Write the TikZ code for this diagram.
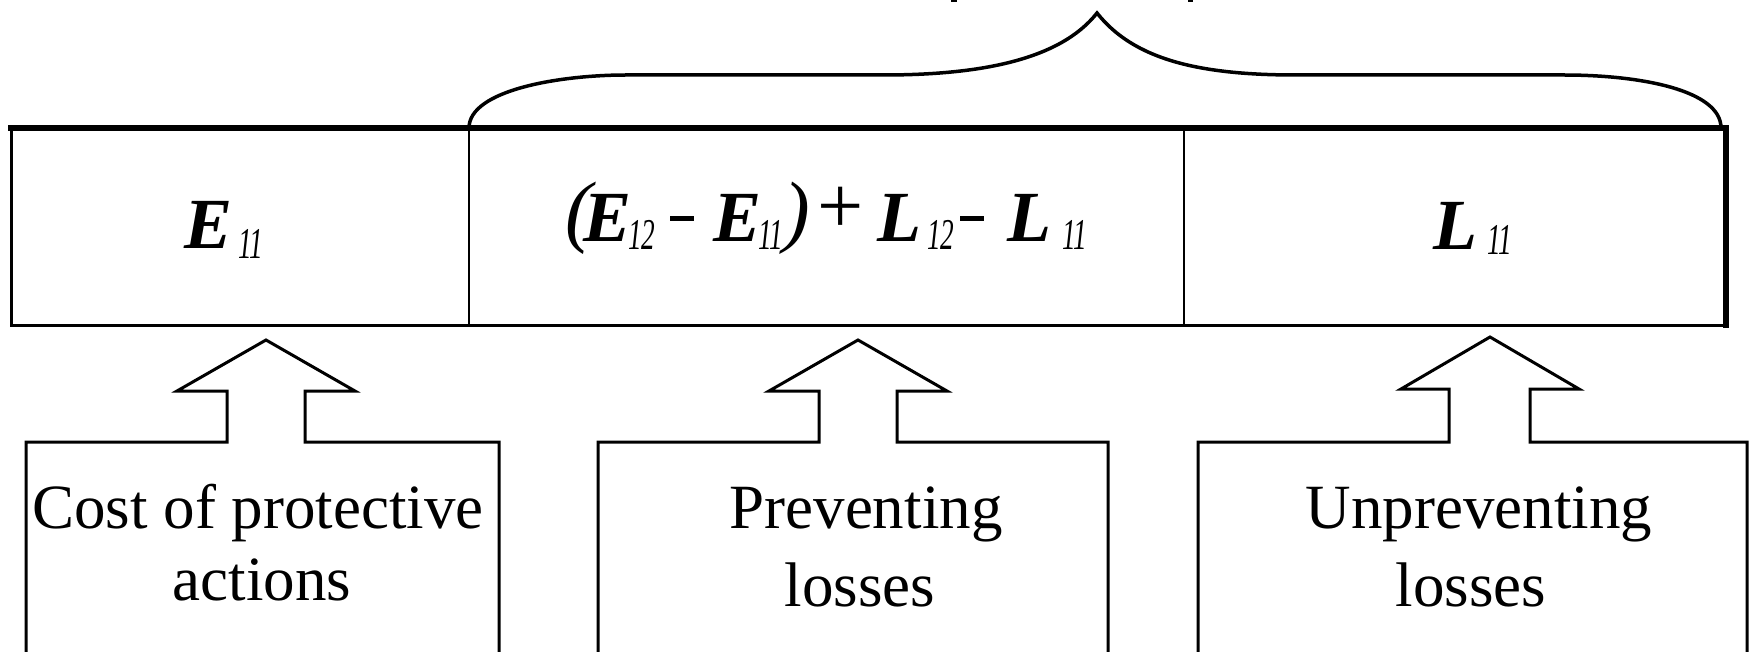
\documentclass[tikz,border=0pt]{standalone}
\usepackage{fontspec}
\setmainfont{Liberation Serif}
\usepackage{graphicx}
\newcommand{\subs}[2][-8pt]{\raisebox{#1}{\scalebox{0.62}[1]{\fontsize{44}{44}\selectfont\mdseries\itshape #2}}}
\newcommand{\bi}[1]{{\bfseries\itshape #1}}
\newcommand{\fixbox}[2]{\makebox[#1pt][l]{#2}}
\newcommand{\mydash}{\rule[21pt]{24pt}{5pt}}
\newcommand{\paren}[1]{\raisebox{5pt}{\fontsize{80}{80}\selectfont\itshape #1}}
\newcommand{\myplus}{\raisebox{8pt}{\fontsize{82}{82}\selectfont +}}
\begin{document}
\begin{tikzpicture}[x=1pt,y=-1pt,
  frame/.style={line width=3pt, line join=miter},
  heavy/.style={line width=5.5pt},
  divider/.style={line width=2.5pt},
  bracepath/.style={line width=3.5pt, line join=miter},
  blockarrow/.style={line width=3pt, line join=miter},
  labeltxt/.style={font=\fontsize{63}{72}\selectfont, inner sep=0pt, anchor=base},
  mathtxt/.style={font=\fontsize{72}{72}\selectfont, inner sep=0pt, anchor=base west}]
\useasboundingbox (0,0) rectangle (1752,652);
% main bar
\coordinate (tl) at (11,128);
\coordinate (br) at (1726,325);
\coordinate (d1t) at (469,128);
\coordinate (d1b) at (469,325);
\coordinate (d2t) at (1184,128);
\coordinate (d2b) at (1184,325);
\draw[frame] (tl) rectangle (br);
\draw[heavy] (8,128) -- (1729,128);
\draw[heavy] (1726,126) -- (1726,327.5);
\draw[divider] (d1t) -- (d1b);
\draw[divider] (d2t) -- (d2b);
% brace
\coordinate (bend) at (1721,128);
\draw[bracepath] (d1t) .. controls (469,90) and (560,75) .. (626,75) -- (883,75)
   .. controls (980,75) and (1060,60) .. (1097,13)
   .. controls (1134,60) and (1200,75) .. (1296,75) -- (1564,75)
   .. controls (1640,75) and (1721,90) .. (bend);
% fragments of cut-off text at top
\draw[line width=2.5pt] (951,1) -- (957,1);
\draw[line width=2.5pt] (1188,1) -- (1193,1);
% cell labels
\node[mathtxt] (e11) at (184,248) {\fixbox{54}{\bi{E}}\subs[-10pt]{11}};
\node[mathtxt] (form) at (565,242) {\fixbox{18}{\paren{(}}\fixbox{45}{\bi{E}}\fixbox{42}{\subs{12}}\fixbox{43}{\mydash}\fixbox{45}{\bi{E}}\fixbox{25}{\subs{11}}\fixbox{34}{\paren{)}}\fixbox{60}{\myplus}\fixbox{50}{\bi{L}}\fixbox{33}{\subs{12}}\fixbox{47}{\mydash}\fixbox{55}{\bi{L}}\subs{11}};
\node[mathtxt] (l11) at (1433,250) {\fixbox{54}{\bi{L}}\subs[-5pt]{11}};
% block arrows with boxes
\draw[blockarrow] (26,652) -- (26,442) -- (227,442) -- (227,391) -- (177,391) -- (266,340)
   -- (355,391) -- (305,391) -- (305,442) -- (499,442) -- (499,652);
\draw[blockarrow] (598,652) -- (598,442) -- (819,442) -- (819,391) -- (769,391) -- (858,340)
   -- (947,391) -- (897,391) -- (897,442) -- (1108,442) -- (1108,652);
\draw[blockarrow] (1198,652) -- (1198,442) -- (1449,442) -- (1449,389) -- (1401,389) -- (1490,337)
   -- (1579,389) -- (1530,389) -- (1530,442) -- (1747,442) -- (1747,652);
% bottom labels
\node[labeltxt] (c1) at (258,528) {Cost of protective};
\node[labeltxt] (c2) at (262,600) {actions};
\node[labeltxt] (p1) at (866,528) {Preventing};
\node[labeltxt] (p2) at (860,606) {losses};
\node[labeltxt] (u1) at (1479,528) {Unpreventing};
\node[labeltxt] (u2) at (1471,606) {losses};
\end{tikzpicture}
\end{document}
